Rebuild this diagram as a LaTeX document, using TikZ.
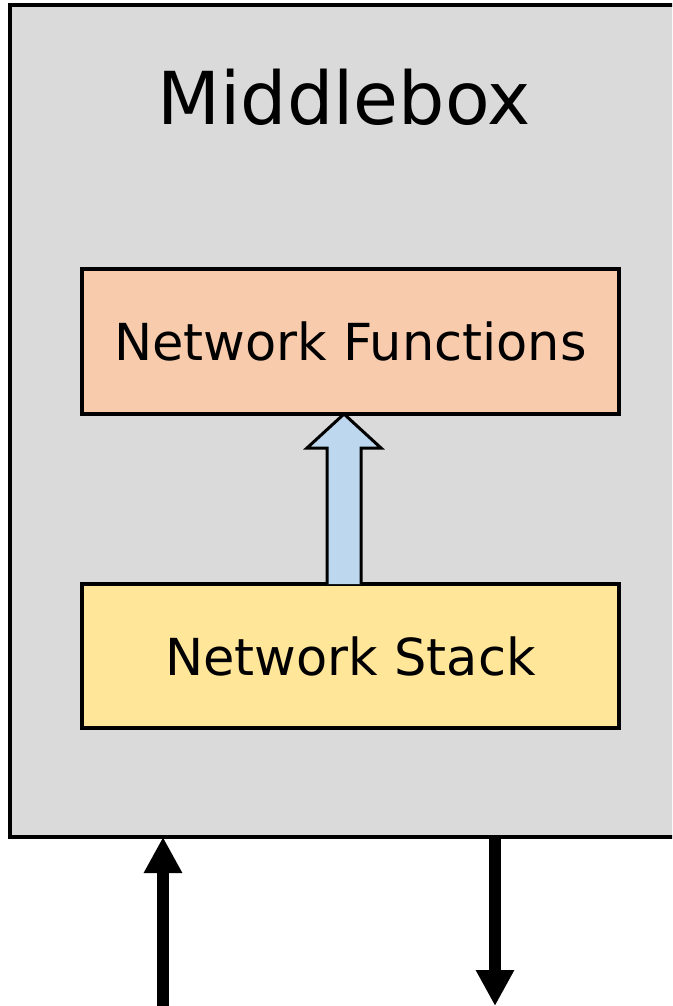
\documentclass[tikz,border=0pt]{standalone}
\usepackage{fontspec}
\setmainfont{DejaVu Sans}
\usetikzlibrary{arrows.meta,calc}
\definecolor{boxgray}{HTML}{DADADA}
\definecolor{funcpeach}{HTML}{F8CBAD}
\definecolor{stackyellow}{HTML}{FFE699}
\definecolor{flowblue}{HTML}{BDD7EE}
\tikzset{
  layer/.style={draw=black, line width=3.5pt, minimum width=537pt, inner sep=0pt, outer sep=0pt, font=\fontsize{51}{60}\selectfont},
  wire/.style={line width=12pt, -{Triangle[width=36pt,length=36pt]}},
  flow/.style={draw=black, fill=flowblue, line width=3pt, line join=miter}
}
\begin{document}
\begin{tikzpicture}[x=1pt, y=-1pt]
  \useasboundingbox (0,0) rectangle (672,1006);
  \clip (0,0) rectangle (672,1006);
  % enclosing middlebox
  \node[draw=black, fill=boxgray, line width=4pt, minimum width=690pt, minimum height=832pt, outer sep=0pt, inner sep=0pt] (mb) at (354.5,421) {};
  \node[font=\fontsize{73}{80}\selectfont, inner sep=0pt] (title) at (344,97) {Middlebox};
  % layers
  \node[layer, fill=funcpeach, minimum height=145pt] (nf) at (350.5,341.5) {Network Functions};
  \node[layer, fill=stackyellow, minimum height=144pt] (ns) at (350.5,656) {Network Stack};
  % upward hollow arrow from the stack to the functions
  \coordinate (tip) at (nf.south -| 344,0);
  \coordinate (base) at (ns.north -| 344,0);
  \draw[flow] ($(base)+(-17,0)$) -- ($(tip)+(-17,34)$) -- ($(tip)+(-37,34)$) -- (tip)
    -- ($(tip)+(37,34)$) -- ($(tip)+(17,34)$) -- ($(base)+(17,0)$);
  % traffic in and out
  \coordinate (inL) at (163,1006);
  \coordinate (outR) at (495,1006);
  \draw[wire] (inL) -- (inL |- mb.south);
  \draw[wire] (outR |- mb.south) -- (outR);
\end{tikzpicture}
\end{document}
